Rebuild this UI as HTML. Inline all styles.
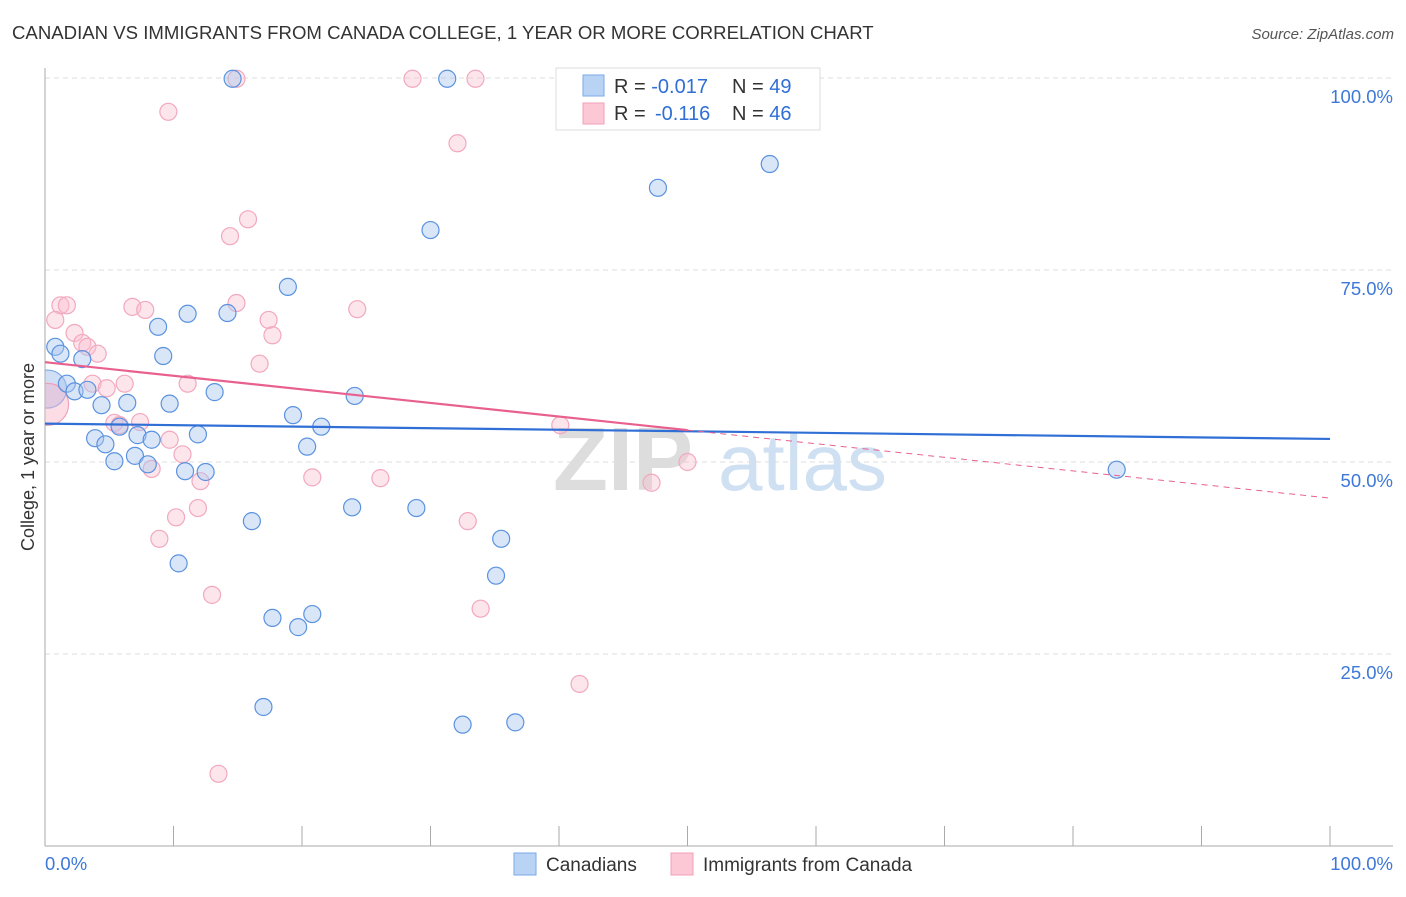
<!DOCTYPE html>
<html><head><meta charset="utf-8"><style>
body{margin:0;background:#fff;font-family:"Liberation Sans",sans-serif}
svg text{font-family:"Liberation Sans",sans-serif}
</style></head><body>
<svg id="chart" width="1406" height="892" xmlns="http://www.w3.org/2000/svg">
<defs><clipPath id="plotclip"><rect x="45" y="60" width="1360" height="786"/></clipPath></defs>
<text x="12" y="39" font-size="18.6" fill="#333">CANADIAN VS IMMIGRANTS FROM CANADA COLLEGE, 1 YEAR OR MORE CORRELATION CHART</text>
<text x="1394" y="39" font-size="15" fill="#555" font-style="italic" text-anchor="end">Source: ZipAtlas.com</text>
<text transform="translate(34,457) rotate(-90)" font-size="18" fill="#333" text-anchor="middle">College, 1 year or more</text>
<g><text x="553" y="490" font-size="90" fill="#ddd" font-family="Liberation Serif" font-weight="bold">ZIP</text><text x="718" y="490" font-size="80" fill="#cfe0f3">atlas</text></g>
<g id="grid"></g><g id="axes"></g><g id="marks" clip-path="url(#plotclip)"></g><g id="trends"></g>
<g>
<rect x="556" y="68" width="264" height="62" fill="#fff" stroke="#ddd"/>
<rect x="583" y="75" width="21" height="21" fill="#b9d3f5" stroke="#7aa9e8"/>
<rect x="583" y="103" width="21" height="21" fill="#fcc8d6" stroke="#f0a0b8"/>
<text x="614" y="93" font-size="20" fill="#333">R = <tspan fill="#2f6fd6">-0.017</tspan><tspan x="732">N = </tspan><tspan fill="#2f6fd6">49</tspan></text>
<text x="614" y="120" font-size="20" fill="#333">R = <tspan x="655" fill="#2f6fd6">-0.116</tspan><tspan x="732">N = </tspan><tspan fill="#2f6fd6">46</tspan></text>
</g>
<g>
<rect x="514" y="853" width="22" height="22" fill="#b9d3f5" stroke="#7aa9e8"/>
<text x="546" y="871" font-size="19" fill="#333">Canadians</text>
<rect x="671" y="853" width="22" height="22" fill="#fcc8d6" stroke="#f0a0b8"/>
<text x="703" y="871" font-size="19" fill="#333">Immigrants from Canada</text>
</g>
<text x="45" y="870" font-size="18.5" fill="#3d78d8">0.0%</text>
<text x="1393" y="870" font-size="18.5" fill="#3d78d8" text-anchor="end">100.0%</text>
</svg>
<script>
const yTicks=[100,75,50,25];
const yTickLabels=["100.0%","75.0%","50.0%","25.0%"];
const xTicks=[0,10,20,30,40,50,60,70,80,90,100];
const blueX=[14.6,31.3,56.4,47.7,30.0,18.9,11.1,14.2,8.8,0.8,1.2,2.9,9.2,1.7,2.3,3.3,6.4,4.4,9.7,13.2,24.1,19.3,21.5,5.8,3.9,7.2,8.3,11.9,4.7,20.4,7.0,5.4,8.0,10.9,12.5,83.4,16.1,23.9,28.9,35.5,10.4,35.1,17.7,20.8,19.7,17.0,32.5,36.6];
const blueY=[99.9,99.9,88.8,85.7,80.2,72.8,69.3,69.4,67.6,65.0,64.1,63.4,63.8,60.2,59.2,59.4,57.7,57.4,57.6,59.1,58.6,56.1,54.6,54.6,53.1,53.5,52.9,53.6,52.3,52.0,50.8,50.1,49.7,48.8,48.7,49.0,42.3,44.1,44.0,40.0,36.8,35.2,29.7,30.2,28.5,18.1,15.8,16.1];
const pinkX=[14.9,28.6,33.5,9.6,32.1,15.8,14.4,1.2,1.7,0.8,14.9,6.8,7.8,24.3,17.4,17.7,2.3,2.9,3.3,4.1,16.7,3.7,4.8,6.2,11.1,5.4,7.4,5.8,9.7,10.7,8.3,20.8,26.1,12.1,50.0,47.2,40.1,11.9,10.2,32.9,8.9,13.0,33.9,41.6,13.5];
const pinkY=[99.9,99.9,99.9,95.6,91.5,81.6,79.4,70.4,70.4,68.5,70.7,70.2,69.8,69.9,68.5,66.5,66.8,65.5,65.0,64.1,62.8,60.2,59.6,60.2,60.2,55.1,55.2,54.8,52.9,51.0,49.1,48.0,47.9,47.5,50.0,47.3,54.8,44.0,42.8,42.3,40.0,32.7,30.9,21.1,9.4];
const bigBlue=[0.2,59.5];const bigPink=[0.2,57.5];
const blueTrend=[55.0,53.0];const pinkTrend=[63.0,45.3];const pinkSolidEnd=50;
const NS="http://www.w3.org/2000/svg";
const sx=v=>45+v*12.85, sy=v=>846-v*7.68;
function mk(t,a,p){const e=document.createElementNS(NS,t);for(const k in a)e.setAttribute(k,a[k]);p.appendChild(e);return e;}
const grid=document.getElementById('grid'),axes=document.getElementById('axes'),marks=document.getElementById('marks'),tr=document.getElementById('trends');
yTicks.forEach((v,i)=>{
 const l=mk('line',{x1:45,x2:1393,y1:sy(v),y2:sy(v),stroke:'#ddd','stroke-dasharray':'5,4'},grid);
 
 
 const t=mk('text',{x:1393,y:sy(v)+25,'font-size':18.5,fill:'#3d78d8','text-anchor':'end'},grid);
 t.textContent=yTickLabels[i];
 
 
});
const ya=mk('line',{x1:45,x2:45,y1:68,y2:846,stroke:'#aaa'},axes);


const xa=mk('line',{x1:45,x2:1393,y1:846,y2:846,stroke:'#aaa'},axes);


xTicks.forEach(v=>{const l=mk('line',{x1:sx(v),x2:sx(v),y1:826,y2:846,stroke:'#aaa'},axes);
 
 });
function pt(x,y,r,f,s,name){const c=mk('circle',{cx:sx(x),cy:sy(y),r:r,fill:f,stroke:s,'stroke-width':1.2},marks);
 
 }
pt(bigBlue[0],bigBlue[1],19,'rgba(150,185,235,0.45)','#7aa9e8','canadians-point-large');
pt(bigPink[0],bigPink[1],21,'rgba(248,180,200,0.45)','#f0a0b8','immigrants-point-large');
pinkX.forEach((x,i)=>pt(x,pinkY[i],8.5,'rgba(250,190,208,0.4)','#f2a8be','immigrants-point'));
blueX.forEach((x,i)=>pt(x,blueY[i],8.5,'rgba(170,200,240,0.45)','#5b92e0','canadians-point'));
const bt=mk('line',{x1:sx(0),x2:sx(100),y1:sy(blueTrend[0]),y2:sy(blueTrend[1]),stroke:'#2f6fd6','stroke-width':2.2},tr);


const pm=pinkTrend[0]+(pinkTrend[1]-pinkTrend[0])*pinkSolidEnd/100;
const ps=mk('line',{x1:sx(0),x2:sx(pinkSolidEnd),y1:sy(pinkTrend[0]),y2:sy(pm),stroke:'#e8608e','stroke-width':2.2},tr);


const pd=mk('line',{x1:sx(pinkSolidEnd),x2:sx(100),y1:sy(pm),y2:sy(pinkTrend[1]),stroke:'#e8608e','stroke-width':1,'stroke-dasharray':'6,5'},tr);


</script>
</body></html>
